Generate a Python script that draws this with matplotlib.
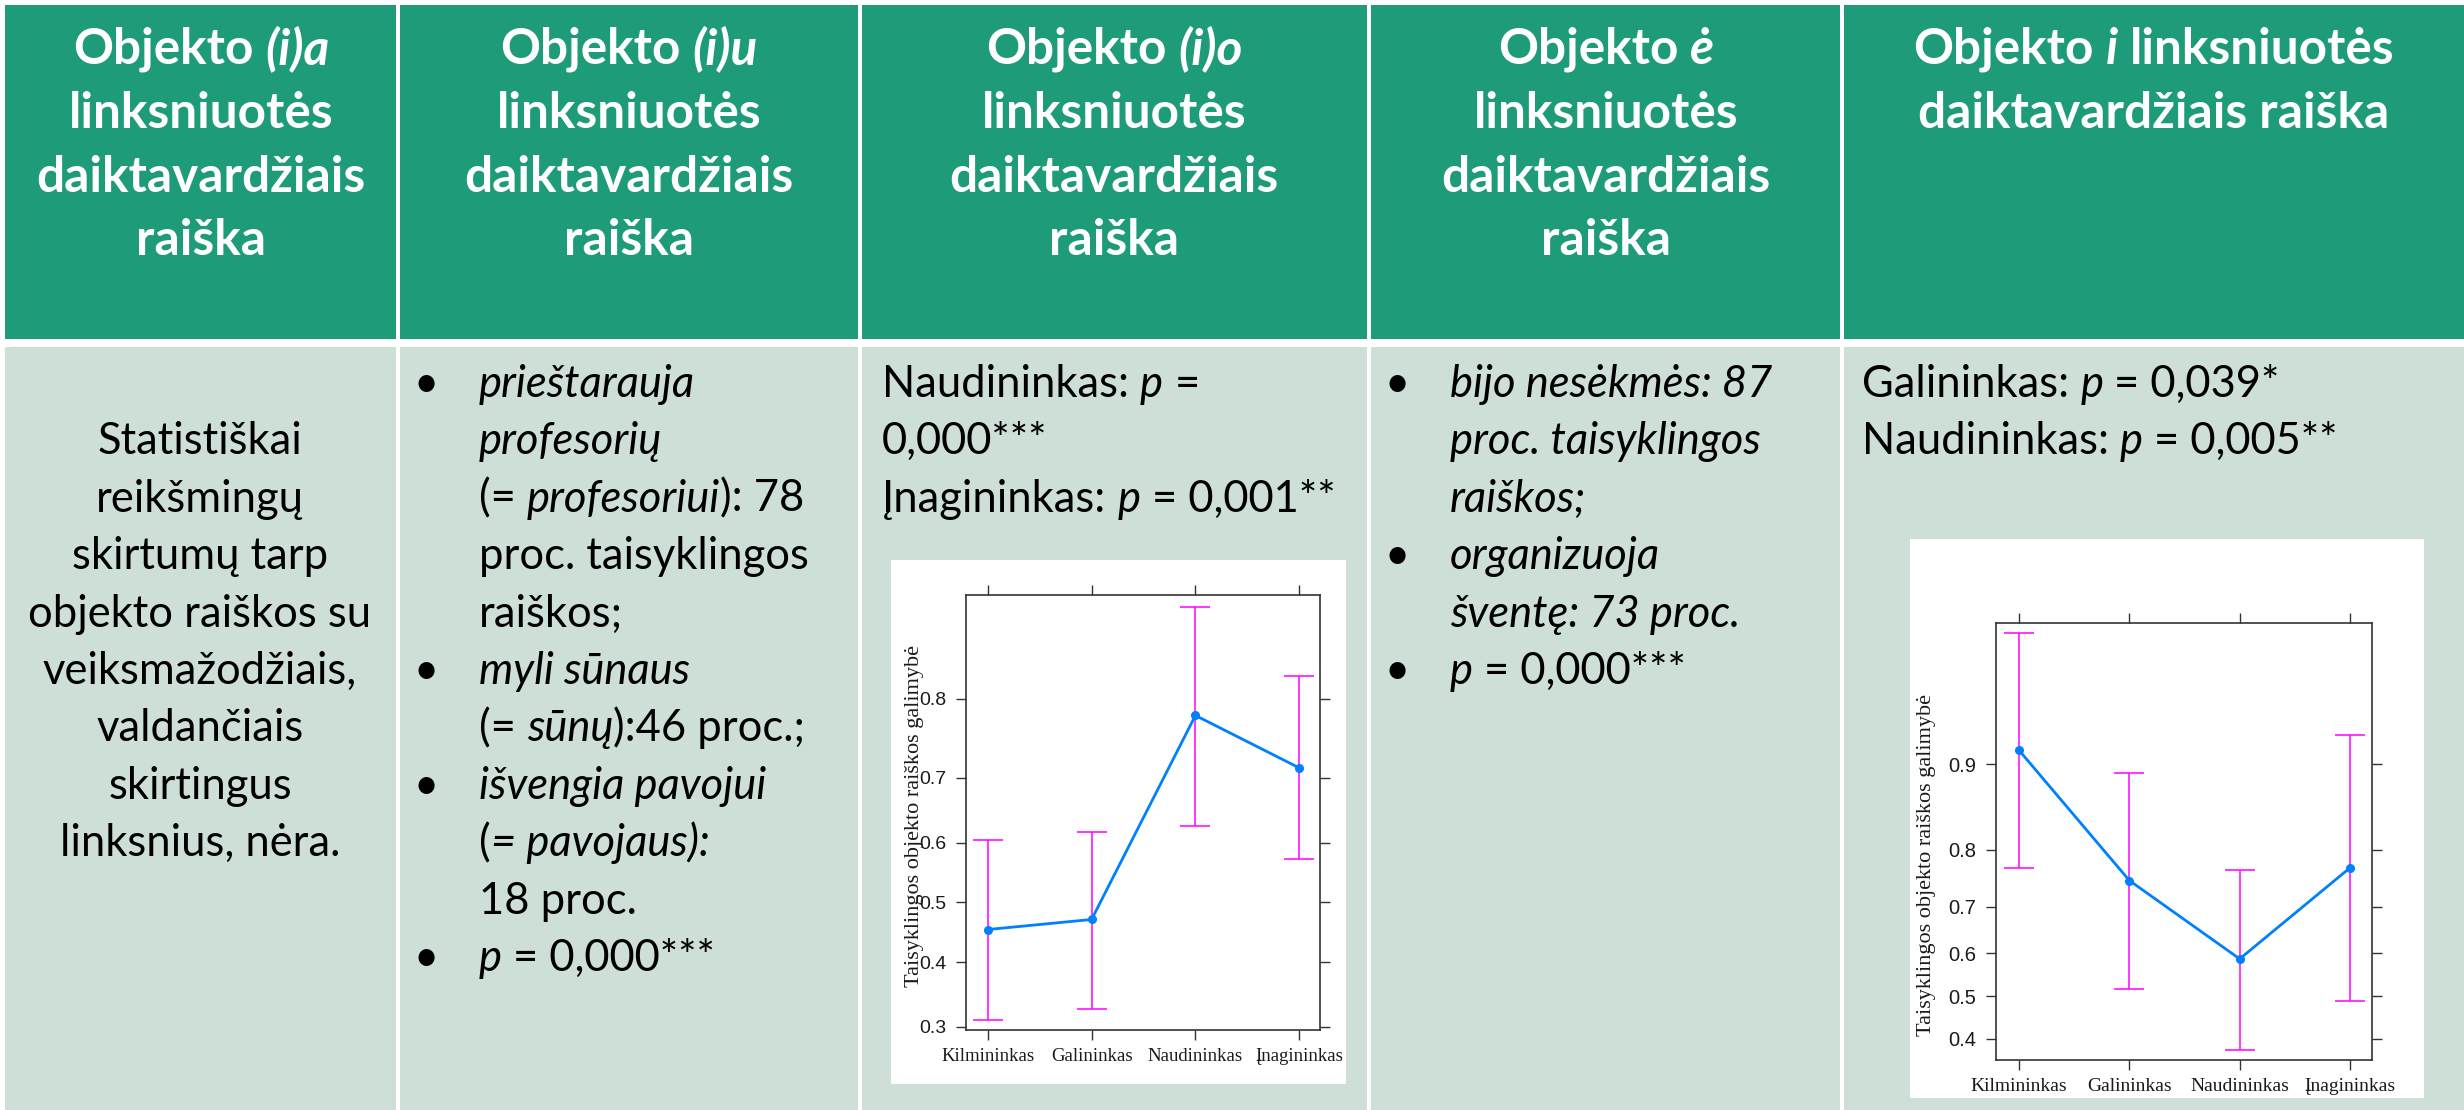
import numpy as np
import matplotlib.pyplot as plt
import matplotlib.ticker as mticker
from matplotlib.patches import Rectangle

# ---- data ----
cases = ['Kilmininkas', 'Galininkas', 'Naudininkas', 'Įnagininkas']

# (i)o declension: fitted probability and confidence band
o_fit = np.array([0.454, 0.471, 0.781, 0.714])
o_lower = np.array([0.310, 0.327, 0.627, 0.573])
o_upper = np.array([0.604, 0.618, 0.882, 0.823])

# i declension
i_fit = np.array([0.911, 0.749, 0.587, 0.771])
i_lower = np.array([0.770, 0.517, 0.375, 0.489])
i_upper = np.array([0.969, 0.892, 0.768, 0.922])

o_yticks = [0.3, 0.4, 0.5, 0.6, 0.7, 0.8]
i_yticks = [0.4, 0.5, 0.6, 0.7, 0.8, 0.9]
ylabel = 'Taisyklingos objekto raiškos galimybė'

# table text: lists of (text, italic) segments per line
headers = [
    [[('Objekto ', False), ('(i)a', True)], [('linksniuotės', False)],
     [('daiktavardžiais', False)], [('raiška', False)]],
    [[('Objekto ', False), ('(i)u', True)], [('linksniuotės', False)],
     [('daiktavardžiais', False)], [('raiška', False)]],
    [[('Objekto ', False), ('(i)o', True)], [('linksniuotės', False)],
     [('daiktavardžiais', False)], [('raiška', False)]],
    [[('Objekto ', False), ('ė', True)], [('linksniuotės', False)],
     [('daiktavardžiais', False)], [('raiška', False)]],
    [[('Objekto ', False), ('i', True), (' linksniuotės', False)],
     [('daiktavardžiais raiška', False)]],
]

col1_lines = ['Statistiškai', 'reikšmingų', 'skirtumų tarp', 'objekto raiškos su',
              'veiksmažodžiais,', 'valdančiais', 'skirtingus', 'linksnius, nėra.']

col2_lines = [
    (True, [('prieštarauja', True)]),
    (False, [('profesorių', True)]),
    (False, [('(= ', False), ('profesoriui', True), ('): 78', False)]),
    (False, [('proc. taisyklingos', False)]),
    (False, [('raiškos;', False)]),
    (True, [('myli sūnaus', True)]),
    (False, [('(= ', False), ('sūnų', True), ('):46 proc.;', False)]),
    (True, [('išvengia pavojui', True)]),
    (False, [('(', False), ('= pavojaus):', True)]),
    (False, [('18 proc.', False)]),
    (True, [('p', True), (' = 0,000***', False)]),
]

col3_lines = [
    [('Naudininkas: ', False), ('p', True), (' =', False)],
    [('0,000***', False)],
    [('Įnagininkas: ', False), ('p', True), (' = 0,001**', False)],
]

col4_lines = [
    (True, [('bijo nesėkmės: 87', True)]),
    (False, [('proc. taisyklingos', True)]),
    (False, [('raiškos;', True)]),
    (True, [('organizuoja', True)]),
    (False, [('šventę: 73 proc.', True)]),
    (True, [('p', True), (' = 0,000***', False)]),
]

col5_lines = [
    [('Galininkas: ', False), ('p', True), (' = 0,039*', False)],
    [('Naudininkas: ', False), ('p', True), (' = 0,005**', False)],
]

# ---- layout ----
W, H = 2464, 1110
FONT = ['Lato', 'DejaVu Sans']
HEAD_GREEN = '#1e9b79'
BODY_GREEN = '#cddfd7'
col_x = [5, 398, 860, 1369, 1842, W]

fig = plt.figure(figsize=(W / 100, H / 100), dpi=100)
fig.patch.set_facecolor('white')
bg = fig.add_axes([0, 0, 1, 1])
bg.set_xlim(0, W)
bg.set_ylim(H, 0)
bg.axis('off')
renderer = fig.canvas.get_renderer()

bg.add_patch(Rectangle((5, 5), W - 5, 334, color=HEAD_GREEN, lw=0))
bg.add_patch(Rectangle((5, 347), W - 5, H - 347, color=BODY_GREEN, lw=0))
for x in col_x[1:-1]:
    bg.add_patch(Rectangle((x - 2, 5), 4, H, color='white', lw=0))


def text_w(s, size, weight='normal', italic=False):
    kw = dict(fontsize=size, fontweight=weight, family=FONT,
              fontstyle='italic' if italic else 'normal')
    t = bg.text(0, 0, '|' + s + '|', **kw)
    w1 = t.get_window_extent(renderer).width
    t.remove()
    t = bg.text(0, 0, '||', **kw)
    w0 = t.get_window_extent(renderer).width
    t.remove()
    return w1 - w0


def rich(x, y, segs, size, weight='normal', color='black', ha='left'):
    widths = [text_w(s, size, weight, it) for s, it in segs]
    if ha == 'center':
        x -= sum(widths) / 2
    for (s, it), w in zip(segs, widths):
        core = s.strip()
        lead = len(s) - len(s.lstrip())
        sw = text_w(' ', size, weight, it)
        if core:
            bg.text(x + lead * sw, y, core, fontsize=size, fontweight=weight,
                    fontstyle='italic' if it else 'normal', family=FONT,
                    color=color, va='baseline', ha='left')
        x += w


head_size = 36 * 328 / text_w('daiktavardžiais', 36, 'bold')
body_size = 30 * 343 / text_w('objekto raiškos su', 30)

# header
head_cx = [201, 629, 1114, 1606, 2154]
for cx, lines in zip(head_cx, headers):
    for i, segs in enumerate(lines):
        rich(cx, 64 + i * 63.8, segs, head_size, 'bold', 'white', 'center')

pitch = 57.4
base = 397
# column 1 (centred)
for i, line in enumerate(col1_lines):
    rich(200, base + pitch * (i + 1), [(line, False)], body_size, ha='center')

# bulleted columns
for bx, tx, lines in [(426, 479, col2_lines), (1397, 1450, col4_lines)]:
    for i, (bul, segs) in enumerate(lines):
        y = base + pitch * i
        if bul:
            bg.text(bx, y, '•', fontsize=body_size, family=FONT, ha='center',
                    va='baseline', color='black')
        rich(tx, y, segs, body_size)

for i, segs in enumerate(col3_lines):
    rich(882, base + pitch * i, segs, body_size)
for i, segs in enumerate(col5_lines):
    rich(1862, base + pitch * i, segs, body_size)

# ---- effect plots ----
bg.add_patch(Rectangle((891, 560), 455, 524, color='white', lw=0))
bg.add_patch(Rectangle((1910, 539), 514, 559, color='white', lw=0))


def panel(frame, fit, lower, upper, yticks, ylim, lab_xy, tick_fs, lab_fs, yl_fs):
    x0, y0, x1, y1 = frame
    ax = fig.add_axes([x0 / W, 1 - y1 / H, (x1 - x0) / W, (y1 - y0) / H])
    xs = np.arange(1, len(cases) + 1)
    ax.errorbar(xs, fit, yerr=[fit - lower, upper - fit], fmt='none',
                ecolor='#ff00ff', elinewidth=1.1, capsize=11, capthick=1.1)
    ax.plot(xs, fit, '-o', color='#0080ff', lw=2, ms=5.5, zorder=3)
    ax.set_yscale('logit')
    ax.set_ylim(*ylim)
    ax.set_xlim(0.79, 4.2)
    ax.set_yticks(yticks, labels=[f'{t:.1f}' for t in yticks])
    ax.yaxis.set_minor_locator(mticker.NullLocator())
    ax.set_xticks(xs, labels=cases)
    for lab in ax.get_xticklabels():
        lab.set_family('Liberation Serif')
        lab.set_fontsize(lab_fs)
    for lab in ax.get_yticklabels():
        lab.set_family('Liberation Sans')
        lab.set_fontsize(tick_fs)
    ax.tick_params(direction='out', length=7, width=1, color='#333333',
                   top=True, right=True, labelcolor='#1a1a1a')
    ax.tick_params(axis='y', pad=7)
    ax.tick_params(axis='x', pad=6)
    for sp in ax.spines.values():
        sp.set_color('#333333')
        sp.set_linewidth(1.2)
    ax.text(lab_xy[0], lab_xy[1], ylabel, rotation=90, transform=ax.transAxes,
            ha='center', va='center', family='Liberation Serif',
            fontsize=yl_fs, color='#1a1a1a')
    return ax


panel((966, 595, 1320, 1030), o_fit, o_lower, o_upper, o_yticks,
      (0.2957, 0.890), (-0.145, 0.493), 14, 13.5, 16)
panel((1996, 623, 2372, 1060), i_fit, i_lower, i_upper, i_yticks,
      (0.353, 0.9716), (-0.185, 0.447), 14.5, 14, 16)

fig.savefig('out.png', dpi=100)
